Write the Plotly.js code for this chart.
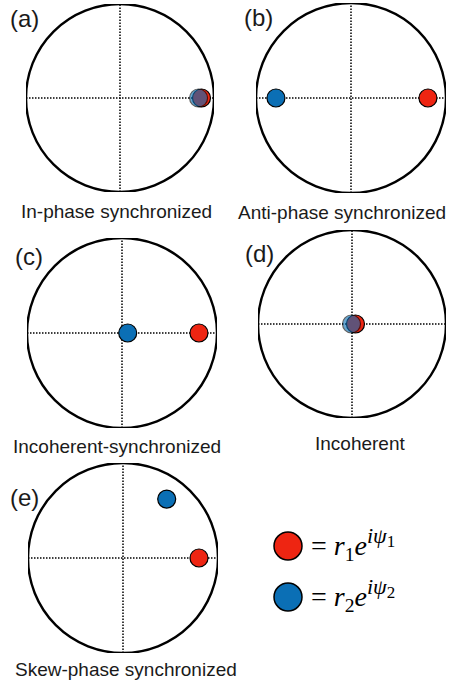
<!DOCTYPE html>
<html><head><meta charset="utf-8">
<script src="https://cdn.plot.ly/plotly-3.0.1.min.js"></script>
<style>html,body{margin:0;padding:0;background:#fff}</style>
</head><body><div id="chart" style="width:449px;height:683px"></div>
<script>
// ---- data ----
const panelLabels = ['(a)', '(b)', '(c)', '(d)', '(e)'];
const captions = ['In-phase synchronized', 'Anti-phase synchronized', 'Incoherent-synchronized', 'Incoherent', 'Skew-phase synchronized'];
const r1x = [0.867, 0.81, 0.81, 0.037, 0.80];
const r1y = [0, 0, 0, 0, 0];
const r2x = [0.836, -0.79, 0.06, -0.005, 0.46];
const r2y = [0, 0, 0, 0, 0.62];
const legendLabels = [
  '= <i>r</i><sub>1</sub><i>e</i><sup><span style="font-size:22px"><i>iψ</i></span><sub><span style="font-size:17px">1</span></sub></sup>',
  '= <i>r</i><sub>2</sub><i>e</i><sup><span style="font-size:22px"><i>iψ</i></span><sub><span style="font-size:17px">2</span></sub></sup>'
];

// ---- geometry (pixels) ----
const W = 449, H = 683;
const geom = [
  {cx: 120, cy: 98,  R: 94, lx: 8,   ly: 18,  tx: 116, ty: 211},
  {cx: 351, cy: 98,  R: 95, lx: 242, ly: 17,  tx: 342, ty: 212},
  {cx: 122, cy: 333, R: 95, lx: 13,  ly: 257, tx: 117, ty: 446},
  {cx: 352, cy: 324, R: 94, lx: 243, ly: 253, tx: 360, ty: 443},
  {cx: 123, cy: 558, R: 95, lx: 8,   ly: 497, tx: 126, ty: 669}
];
const legendPos = [{x: 288, y: 546}, {x: 288, y: 597}];
const RED = '#EE2512', BLUE = '#0B6FB5';
const px = v => v / W, py = v => 1 - v / H;

const data = [], shapes = [], annotations = [];
const layout = {
  width: W, height: H, margin: {l: 0, r: 0, t: 0, b: 0},
  paper_bgcolor: '#fff', plot_bgcolor: 'rgba(0,0,0,0)',
  showlegend: false, shapes, annotations
};
const sansFont = {family: 'Liberation Sans, Arial, sans-serif', color: '#1a1a1a'};

geom.forEach((g, i) => {
  const n = i + 1, xa = 'x' + (n === 1 ? '' : n), ya = 'y' + (n === 1 ? '' : n);
  layout['xaxis' + (n === 1 ? '' : n)] = {domain: [px(g.cx - g.R), px(g.cx + g.R)], range: [-1, 1], visible: false, fixedrange: true, anchor: ya};
  layout['yaxis' + (n === 1 ? '' : n)] = {domain: [py(g.cy + g.R), py(g.cy - g.R)], range: [-1, 1], visible: false, fixedrange: true, anchor: xa};
  shapes.push({type: 'line', xref: xa, yref: ya, x0: -1, x1: 1, y0: 0, y1: 0, layer: 'below', line: {color: '#000', width: 1.5, dash: '1.5px,1.5px'}});
  shapes.push({type: 'line', xref: xa, yref: ya, x0: 0, x1: 0, y0: -1, y1: 1, layer: 'below', line: {color: '#000', width: 1.5, dash: '1.5px,1.5px'}});
  shapes.push({type: 'circle', xref: xa, yref: ya, x0: -1, x1: 1, y0: -1, y1: 1, layer: 'below', line: {color: '#000', width: 2.4}});
  const overlap = Math.hypot(r1x[i] - r2x[i], r1y[i] - r2y[i]) < 0.15;
  data.push({type: 'scatter', mode: 'markers', x: [r1x[i]], y: [r1y[i]], xaxis: xa, yaxis: ya, cliponaxis: false,
    marker: {size: 18, color: RED, line: {color: '#000', width: 1.2}}, hoverinfo: 'skip'});
  data.push({type: 'scatter', mode: 'markers', x: [r2x[i]], y: [r2y[i]], xaxis: xa, yaxis: ya, cliponaxis: false,
    marker: {size: 18, color: BLUE, opacity: overlap ? 0.62 : 1, line: {color: '#000', width: 1.2}}, hoverinfo: 'skip'});
  annotations.push({xref: 'paper', yref: 'paper', x: px(g.lx), y: py(g.ly), xanchor: 'left', yanchor: 'middle', showarrow: false,
    text: panelLabels[i], font: Object.assign({size: 24}, sansFont)});
  annotations.push({xref: 'paper', yref: 'paper', x: px(g.tx), y: py(g.ty), xanchor: 'center', yanchor: 'middle', showarrow: false,
    text: captions[i], font: Object.assign({size: 19}, sansFont)});
});

[RED, BLUE].forEach((c, k) => {
  const p = legendPos[k];
  shapes.push({type: 'circle', xref: 'paper', yref: 'paper', xsizemode: 'pixel', ysizemode: 'pixel',
    xanchor: px(p.x), yanchor: py(p.y), x0: -14, x1: 14, y0: -14, y1: 14,
    fillcolor: c, line: {color: '#000', width: 1.5}});
  annotations.push({xref: 'paper', yref: 'paper', x: px(309), y: py(p.y - 2), xanchor: 'left', yanchor: 'middle', showarrow: false,
    text: legendLabels[k], font: {family: 'Liberation Serif, Times New Roman, serif', size: 28, color: '#000'}});
});

Plotly.newPlot('chart', data, layout, {staticPlot: true, displayModeBar: false});
</script></body></html>
